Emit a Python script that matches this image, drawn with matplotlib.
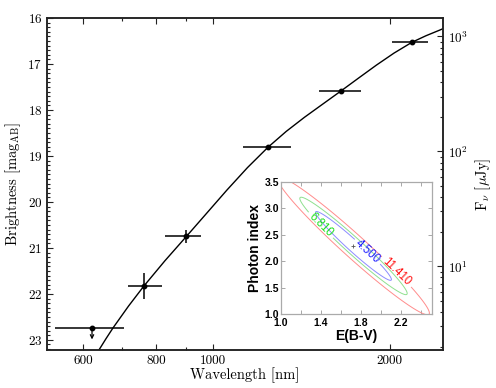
import numpy as np
import matplotlib
matplotlib.use('Agg')
import matplotlib.pyplot as plt
from matplotlib.ticker import (FixedLocator, NullFormatter, FixedFormatter,
                               MultipleLocator, LogLocator, FormatStrFormatter)

# ---------------- data ----------------
wl = [621.6, 762.2, 898.6, 1240.0, 1651.0, 2181.0]
wl_lo = [537.6, 716.0, 828.0, 1122.7, 1514.0, 2019.0]
wl_hi = [705.5, 818.0, 953.0, 1355.6, 1783.0, 2319.0]
mag = [22.75, 21.83, 20.75, 18.81, 17.59, 16.52]
mag_err = [0.0, 0.28, 0.15, 0.05, 0.05, 0.05]
upper_limit_wl = [621.6]
upper_limit_mag = [22.75]

model_wl = [628.6, 638.9, 656.7, 675.0, 717.3, 762.2, 827.6, 898.6, 973.9,
            1055.4, 1143.8, 1239.8, 1331.8, 1430.6, 1537.0, 1650.9, 1769.9,
            1897.4, 2033.5, 2181.0, 2304.2, 2434.3, 2463.1]
model_mag = [23.357, 23.217, 22.973, 22.739, 22.265, 21.826, 21.278, 20.761,
             20.251, 19.741, 19.254, 18.811, 18.466, 18.159, 17.872, 17.587,
             17.304, 17.024, 16.762, 16.528, 16.386, 16.261, 16.232]

x_major = [600, 800, 1000, 2000]
x_major_labels = ['600', '800', '1000', '2000']
x_minor = [700, 900]
y_major = [16, 17, 18, 19, 20, 21, 22, 23]

# inset: chi-square surface
ebv_best = 1.725
index_best = 2.29
sig_ebv = 0.25
sig_index = 0.43
rho = -0.975
chi2_min = 2.2
chi2_levels = [4.5, 6.81, 11.41]
level_line_colors = ['#8c8cff', '#8fe08f', '#ff8c8c']
level_text_colors = ['#2020ff', '#20e020', '#ff1010']
label_pos = [(1.86, 2.17), (1.40, 2.69), (2.17, 1.83)]
inset_xticks = [1.0, 1.4, 1.8, 2.2]
inset_xminor = [1.2, 1.6, 2.0, 2.4]

# ---------------- style ----------------
plt.rcParams['font.family'] = 'cmr10'
plt.rcParams['mathtext.fontset'] = 'cm'
plt.rcParams['axes.formatter.use_mathtext'] = True
plt.rcParams['axes.unicode_minus'] = False

fig = plt.figure(figsize=(4.96, 3.88), dpi=100)
ax = fig.add_axes([0.0948, 0.0979, 0.893 - 0.0948, 0.9536 - 0.0979])

ax.plot(model_wl, model_mag, color='k', lw=1.0, zorder=2)
xerr = [np.array(wl) - np.array(wl_lo), np.array(wl_hi) - np.array(wl)]
ax.errorbar(wl, mag, xerr=xerr, yerr=mag_err, fmt='o', ms=3.2, color='k',
            ecolor='k', elinewidth=1.1, capsize=0, zorder=3)
for w, m in zip(upper_limit_wl, upper_limit_mag):
    ax.annotate('', xy=(w, m + 0.24), xytext=(w, m + 0.02),
                arrowprops=dict(arrowstyle='->', lw=0.9, color='k',
                                shrinkA=0, shrinkB=0, mutation_scale=6))

ax.set_xscale('log')
ax.set_xlim(521, 2463)
ax.set_ylim(23.22, 16.0)
ax.xaxis.set_major_locator(FixedLocator(x_major))
ax.xaxis.set_major_formatter(FixedFormatter(x_major_labels))
ax.xaxis.set_minor_locator(FixedLocator(x_minor))
ax.xaxis.set_minor_formatter(NullFormatter())
ax.yaxis.set_major_locator(FixedLocator(y_major))
ax.yaxis.set_minor_locator(MultipleLocator(0.1))
ax.tick_params(which='both', direction='in', top=True, right=False,
               labelsize=9.5, width=0.8, color='#222222')
ax.tick_params(which='major', length=4)
ax.tick_params(which='minor', length=2)
for s in ax.spines.values():
    s.set_linewidth(1.1)
    s.set_color('#222222')
ax.set_xlabel('Wavelength [nm]', fontsize=10.5, labelpad=0)
ax.set_ylabel(r'Brightness [mag$_{\rm AB}$]', fontsize=10.5, labelpad=3)

# right axis in flux density
def mag_to_flux(m):
    return 10 ** ((23.9 - m) / 2.5)

ax2 = ax.twinx()
ax2.set_position(ax.get_position())
ax2.set_yscale('log')
lo, hi = ax.get_ylim()
ax2.set_ylim(mag_to_flux(lo), mag_to_flux(hi))
ax2.yaxis.set_major_locator(LogLocator(base=10, numticks=10))
ax2.yaxis.set_minor_locator(LogLocator(base=10, subs=np.arange(2, 10), numticks=20))
ax2.yaxis.set_minor_formatter(NullFormatter())
ax2.tick_params(which='both', direction='in', labelsize=9.5, width=0.8, color='#222222')
ax2.tick_params(which='major', length=4)
ax2.tick_params(which='minor', length=2)
ax2.set_ylabel(r'F$_\nu$ [$\mu$Jy]', fontsize=10.5, labelpad=4)
for s in ax2.spines.values():
    s.set_linewidth(1.1)
    s.set_color('#222222')

# ---------------- inset ----------------
ins = fig.add_axes([0.5665, 0.1907, 0.3045, 0.340])
e = np.linspace(0.9, 2.6, 500)
p = np.linspace(0.8, 3.8, 500)
E, P = np.meshgrid(e, p)
u = (E - ebv_best) / sig_ebv
v = (P - index_best) / sig_index
chi2 = chi2_min + (u ** 2 - 2 * rho * u * v + v ** 2) / (1 - rho ** 2)
for lev, lc, tc, pos in zip(chi2_levels, level_line_colors, level_text_colors, label_pos):
    cs = ins.contour(E, P, chi2, levels=[lev], colors=[lc], linewidths=0.7)
    texts = ins.clabel(cs, fmt='%.3f', colors=[tc], fontsize=8.3,
                       manual=[pos], inline=True, inline_spacing=2)
    for t in texts:
        t.set_fontfamily('Liberation Sans')
ins.plot([ebv_best], [index_best], marker='+', ms=3, color='#555555', mew=0.6)
ins.set_xlim(1.0, 2.51)
ins.set_ylim(1.0, 3.5)
ins.xaxis.set_major_locator(FixedLocator(inset_xticks))
ins.xaxis.set_minor_locator(FixedLocator(inset_xminor))
ins.yaxis.set_major_locator(MultipleLocator(0.5))
ins.xaxis.set_major_formatter(FormatStrFormatter('%.1f'))
ins.yaxis.set_major_formatter(FormatStrFormatter('%.1f'))
ins.tick_params(which='both', direction='in', top=True, right=True,
                color='#999999', width=0.6, length=3, pad=1.5)
ins.tick_params(axis='x', which='both', pad=3)
for lab in ins.get_xticklabels() + ins.get_yticklabels():
    lab.set_fontfamily('Liberation Sans')
    lab.set_fontweight('bold')
    lab.set_fontsize(7.5)
for s in ins.spines.values():
    s.set_color('#aaaaaa')
    s.set_linewidth(0.9)
ins.set_xlabel('E(B-V)', fontfamily='Liberation Sans', fontweight='bold',
               fontsize=10, labelpad=0.5)
ins.set_ylabel('Photon index', fontfamily='Liberation Sans', fontweight='bold',
               fontsize=10, labelpad=2)

fig.savefig('out.png', dpi=100)
